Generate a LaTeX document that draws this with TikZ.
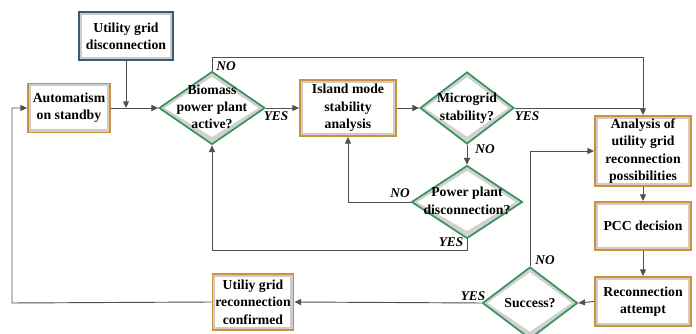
\documentclass[tikz,border=0pt]{standalone}
\usepackage{fontspec}
\setmainfont{Liberation Serif}
\usetikzlibrary{arrows.meta,shapes.geometric,calc}
\definecolor{boxorange}{RGB}{205,145,55}
\definecolor{boxblue}{RGB}{60,90,115}
\definecolor{diagreen}{RGB}{55,150,90}
\definecolor{linegray}{RGB}{80,80,80}
\begin{document}
\begin{tikzpicture}[x=0.75pt,y=-0.75pt,
  txt/.style={font=\bfseries\fontsize{10.3}{13}\selectfont, align=center},
  box/.style={txt, rectangle, draw=boxorange, line width=1.4pt, fill=black!20, inner sep=0pt,
    path picture={\fill[white] ([shift={(2.2pt,-2.2pt)}]path picture bounding box.north west) rectangle ([shift={(-2.6pt,2.6pt)}]path picture bounding box.south east);}},
  bluebox/.style={box, draw=boxblue},
  dia/.style={txt, diamond, draw=diagreen, line width=1.3pt, inner sep=0pt, fill=black!18,
    path picture={
      \coordinate (pc) at (path picture bounding box.center);
      \fill[white] ($(pc)!0.86!(path picture bounding box.north)$) -- ($(pc)!0.88!(path picture bounding box.east)$) -- ($(pc)!0.80!(path picture bounding box.south)$) -- ($(pc)!0.90!(path picture bounding box.west)$) -- cycle;}},
  conn/.style={draw=linegray, line width=0.7pt},
  arr/.style={conn, -{Triangle[length=5pt,width=4.5pt]}},
  lbl/.style={font=\bfseries\itshape\fontsize{10}{12}\selectfont, inner sep=0pt}
]
\useasboundingbox (0,0) rectangle (696,334);

\node[bluebox, minimum width=71pt, minimum height=36pt] (ugd) at (126,36) {Utility grid\\disconnection};
\node[box, minimum width=61.5pt, minimum height=36.75pt] (auto) at (69,108) {Automatism\\on standby};
\node[dia, minimum width=79.5pt, minimum height=54.75pt] (bio) at (212,108) {\makebox[0pt]{\begin{tabular}{@{}c@{}}Biomass\\power plant\\active?\end{tabular}}};
\node[box, minimum width=72pt, minimum height=42pt] (isl) at (348,108) {Island mode\\stability\\analysis};
\node[dia, minimum width=70.5pt, minimum height=54pt] (mic) at (467,108) {\makebox[0pt]{\begin{tabular}{@{}c@{}}Microgrid\\stability?\end{tabular}}};
\node[dia, minimum width=83.25pt, minimum height=54.75pt] (pp) at (467,202) {\makebox[0pt]{\begin{tabular}{@{}c@{}}Power plant\\disconnection?\end{tabular}}};
\node[box, minimum width=72pt, minimum height=52.5pt] (ana) at (643,151) {Analysis of\\utility grid\\reconnection\\possibilities};
\node[box, minimum width=72pt, minimum height=36pt] (pcc) at (643,226) {PCC decision};
\node[box, minimum width=72pt, minimum height=36.75pt] (rec) at (643,301.5) {Reconnection\\attempt};
\node[dia, minimum width=71.25pt, minimum height=54pt] (suc) at (530,303) {\makebox[0pt]{Success?}};
\node[box, minimum width=60.75pt, minimum height=42pt] (conf) at (253,302) {Utiliy grid\\reconnection\\confirmed};

\coordinate (topy) at (0,57);
\coordinate (boty) at (0,250);
\coordinate (lft) at (12,303);

\draw[arr] (ugd.south) -- (ugd.south |- bio.west);
\draw[arr] (auto.east) -- (bio.west);
\draw[arr] (bio.east) -- (isl.west);
\draw[arr] (bio.north) -- (bio.north |- topy) -| (ana.north);
\draw[arr] (isl.east) -- (mic.west);
\draw[conn] (mic.east) -- (mic.east -| ana.north);
\draw[arr] (mic.south) -- (pp.north);
\draw[arr] (pp.west) -| (isl.south);
\draw[arr] (pp.south) -- (pp.south |- boty) -| (bio.south);
\draw[arr] (ana.south) -- (pcc.north);
\draw[arr] (pcc.south) -- (rec.north);
\draw[arr] (rec.west) -- (suc.east);
\draw[arr] (suc.north) |- (ana.west);
\draw[arr] (suc.west) -- (conf.east);
\draw[arr] (conf.west) -- (lft) |- (auto.west);

\node[lbl] (l1) at (226,66) {NO};
\node[lbl] (l2) at (276,116) {YES};
\node[lbl] (l3) at (527,116) {YES};
\node[lbl] (l4) at (485,149) {NO};
\node[lbl] (l5) at (400,193) {NO};
\node[lbl] (l6) at (451,242) {YES};
\node[lbl] (l7) at (545,260) {NO};
\node[lbl] (l8) at (473,296) {YES};
\end{tikzpicture}
\end{document}
